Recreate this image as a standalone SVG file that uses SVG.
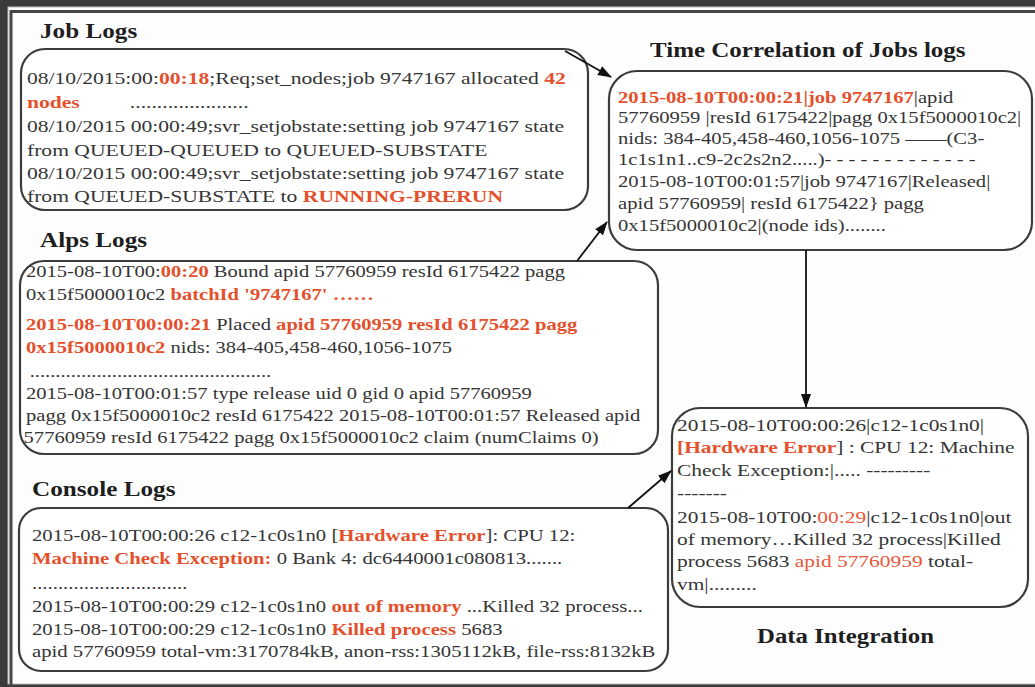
<svg xmlns="http://www.w3.org/2000/svg" width="1035" height="687" viewBox="0 0 1035 687">
<style>
.t{font-family:"Liberation Serif","Times New Roman",serif;font-size:17px;fill:#353535}
.s{font-size:16.5px}
.r{fill:#e4502c;font-weight:bold}
.rn{fill:#e8583a}
.h{font-family:"Liberation Serif","Times New Roman",serif;font-size:20px;font-weight:bold;fill:#1e1e1e}
.box{fill:#fff;stroke:#3c3c3c;stroke-width:2.2}
.con{stroke:#111;stroke-width:1.8;fill:none}
</style>
<defs>
<marker id="ah" markerWidth="14" markerHeight="10" refX="13" refY="5" orient="auto" markerUnits="userSpaceOnUse">
<path d="M0,0 L14,5 L0,10 z" fill="#111"/>
</marker>
</defs>
<rect x="0" y="0" width="1035" height="687" fill="#3a3a3a"/>
<rect x="8" y="7" width="1030" height="677" fill="#fdfdfd" stroke="#b8b8b8" stroke-width="1"/>
<path d="M11,687 V11.5 H1035" fill="none" stroke="#454545" stroke-width="3"/>

<g id="job-logs">
<text class="h" transform="translate(40,0) scale(1.26,1)" x="0" y="38">Job Logs</text>
<rect class="box" x="21" y="49" width="567" height="161" rx="24"/>
<g class="t" transform="translate(27,0) scale(1.27,1)">
<text x="0" y="84">08/10/2015:00:<tspan class="r">00:18</tspan>;Req;set_nodes;job 9747167 allocated <tspan class="r">42</tspan></text>
<text x="0" y="108"><tspan class="r">nodes</tspan></text>
<text x="81" y="108">......................</text>
<text x="0" y="132">08/10/2015 00:00:49;svr_setjobstate:setting job 9747167 state</text>
<text x="0" y="156">from QUEUED-QUEUED to QUEUED-SUBSTATE</text>
<text x="0" y="179">08/10/2015 00:00:49;svr_setjobstate:setting job 9747167 state</text>
<text x="0" y="202">from QUEUED-SUBSTATE to <tspan class="r">RUNNING-PRERUN</tspan></text>
</g>
</g>

<g id="alps-logs">
<text class="h" transform="translate(40,0) scale(1.26,1)" x="0" y="247">Alps Logs</text>
<rect class="box" x="20" y="261" width="638" height="193" rx="24"/>
<g class="t" transform="translate(26,0) scale(1.21,1)">
<text x="0" y="277">2015-08-10T00:<tspan class="r">00:20</tspan> Bound apid 57760959 resId 6175422 pagg</text>
<text x="0" y="300">0x15f5000010c2 <tspan class="r">batchId '9747167' ……</tspan></text>
<text x="0" y="330"><tspan class="r">2015-08-10T00:00:21</tspan> Placed <tspan class="r">apid 57760959 resId 6175422 pagg</tspan></text>
<text x="0" y="353"><tspan class="r">0x15f5000010c2</tspan> nids: 384-405,458-460,1056-1075</text>
<text x="3" y="377">...............................................</text>
<text x="0" y="399">2015-08-10T00:01:57 type release uid 0 gid 0 apid 57760959</text>
<text x="0" y="421">pagg 0x15f5000010c2 resId 6175422 2015-08-10T00:01:57 Released apid</text>
<text x="-2" y="443">57760959 resId 6175422 pagg 0x15f5000010c2 claim (numClaims 0)</text>
</g>
</g>

<g id="console-logs">
<text class="h" transform="translate(32,0) scale(1.26,1)" x="0" y="496">Console Logs</text>
<rect class="box" x="19" y="508" width="649" height="163" rx="22"/>
<g class="t" transform="translate(32,0) scale(1.22,1)">
<text x="0" y="541">2015-08-10T00:00:26 c12-1c0s1n0 [<tspan class="r">Hardware Error</tspan>]: CPU 12:</text>
<text x="0" y="564"><tspan class="r">Machine Check Exception:</tspan> 0 Bank 4: dc6440001c080813.......</text>
<text x="0" y="589">..............................</text>
<text x="0" y="612">2015-08-10T00:00:29 c12-1c0s1n0 <tspan class="r">out of memory</tspan> ...Killed 32 process...</text>
<text x="0" y="635">2015-08-10T00:00:29 c12-1c0s1n0 <tspan class="r">Killed process</tspan> 5683</text>
<text x="0" y="657">apid 57760959 total-vm:3170784kB, anon-rss:1305112kB, file-rss:8132kB</text>
</g>
</g>

<g id="time-correlation">
<text class="h" transform="translate(650,0) scale(1.25,1)" x="0" y="57">Time Correlation of Jobs logs</text>
<rect class="box" x="609" y="71" width="423" height="179" rx="28"/>
<g class="t s" transform="translate(618,0) scale(1.25,1)">
<text x="0" y="103"><tspan class="r">2015-08-10T00:00:21|job 9747167</tspan>|apid</text>
<text x="0" y="123">57760959 |resId 6175422|pagg 0x15f5000010c2|</text>
<text x="0" y="144">nids: 384-405,458-460,1056-1075 ——(C3-</text>
<text x="0" y="165">1c1s1n1..c9-2c2s2n2.....)- - - - - - - - - - - - -</text>
<text x="0" y="187">2015-08-10T00:01:57|job 9747167|Released|</text>
<text x="0" y="209">apid 57760959| resId 6175422} pagg</text>
<text x="0" y="231">0x15f5000010c2|(node ids)........</text>
</g>
</g>

<g id="data-integration">
<rect class="box" x="672" y="408" width="356" height="199" rx="28"/>
<g class="t" transform="translate(677,0) scale(1.26,1)">
<text x="0" y="431">2015-08-10T00:00:26|c12-1c0s1n0|</text>
<text x="0" y="453"><tspan class="r">[Hardware Error</tspan>] : CPU 12: Machine</text>
<text x="0" y="476">Check Exception:|..... ---------</text>
<text x="0" y="499">-------</text>
<text x="0" y="523">2015-08-10T00:<tspan class="rn">00:29</tspan>|c12-1c0s1n0|out</text>
<text x="0" y="545">of memory…Killed 32 process|Killed</text>
<text x="0" y="567">process 5683 <tspan class="rn">apid 57760959</tspan> total-</text>
<text x="0" y="590">vm|.........</text>
</g>
<text class="h" transform="translate(757,0) scale(1.24,1)" x="0" y="643">Data Integration</text>
</g>

<g id="connectors">
<path class="con" d="M565,51 L611,77" marker-end="url(#ah)"/>
<path class="con" d="M577,261 L607,222" marker-end="url(#ah)"/>
<path class="con" d="M806,250 L806,407" marker-end="url(#ah)"/>
<path class="con" d="M628,508 L671,471" marker-end="url(#ah)"/>
</g>
</svg>
